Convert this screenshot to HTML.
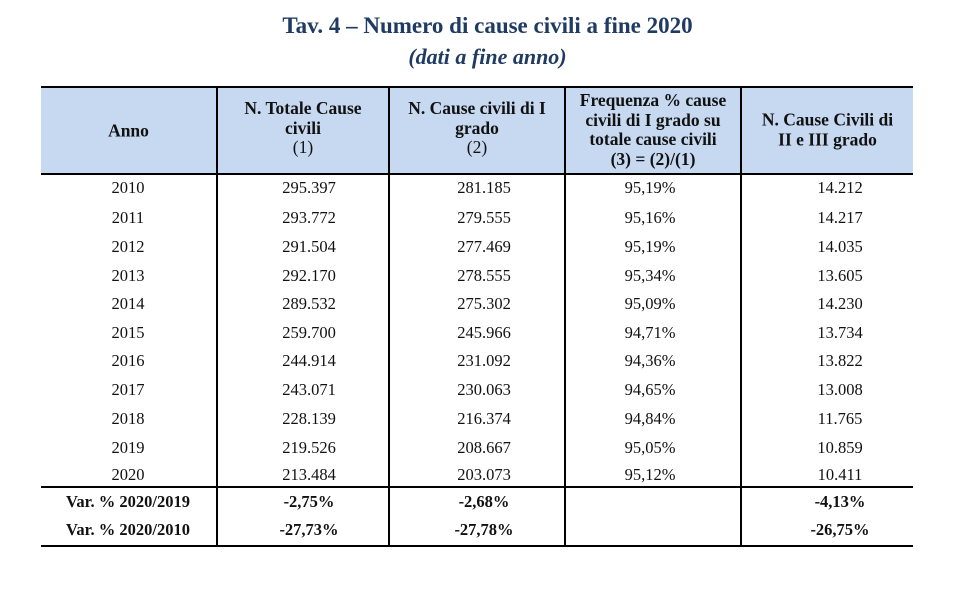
<!DOCTYPE html>
<html><head><meta charset="utf-8"><style>
body{margin:0;width:975px;height:601px;background:#fff;position:relative;font-family:"Liberation Serif",serif;overflow:hidden}
.t{position:absolute;left:0;width:975px;text-align:center;color:#1f3a63;font-weight:bold}
.h{position:absolute;background:#c6d9f1;left:41px;top:87px;width:872px;height:87px}
.ln{position:absolute;background:#000}
.c{position:absolute;text-align:center;font-size:16.5px;color:#111;transform:translateY(-50%)}
.hd{position:absolute;text-align:center;font-size:17.5px;font-weight:bold;line-height:19.5px;color:#111;transform:translateY(-50%)}
.b{font-weight:bold}
</style></head><body>
<div class="t" style="top:13px;font-size:23px;">Tav. 4 – Numero di cause civili a fine 2020</div>
<div class="t" style="top:44px;font-size:22px;font-style:italic;">(dati a fine anno)</div>
<div class="h"></div>
<div class="ln" style="left:41px;top:86px;width:872px;height:2px"></div>
<div class="ln" style="left:41px;top:173px;width:872px;height:2px"></div>
<div class="ln" style="left:41px;top:486px;width:872px;height:2px"></div>
<div class="ln" style="left:41px;top:545px;width:872px;height:2px"></div>
<div class="ln" style="left:216px;top:86px;width:2px;height:461px"></div>
<div class="ln" style="left:388px;top:86px;width:2px;height:461px"></div>
<div class="ln" style="left:564px;top:86px;width:2px;height:461px"></div>
<div class="ln" style="left:740px;top:86px;width:2px;height:461px"></div>
<div class="hd" style="left:41px;width:175px;top:131px">Anno</div>
<div class="hd" style="left:218px;width:170px;top:128px">N. Totale Cause<br>civili<br><span style="font-weight:normal">(1)</span></div>
<div class="hd" style="left:390px;width:174px;top:128px">N. Cause civili di I<br>grado<br><span style="font-weight:normal">(2)</span></div>
<div class="hd" style="left:566px;width:174px;top:130px">Frequenza % cause<br>civili di I grado su<br>totale cause civili<br>(3) = (2)/(1)</div>
<div class="hd" style="left:742px;width:171px;top:130px">N. Cause Civili di<br>II e III grado</div>
<div id="rows"></div>
<script>
var d=[[188,"2010","295.397","281.185","95,19%","14.212"],[218,"2011","293.772","279.555","95,16%","14.217"],[247,"2012","291.504","277.469","95,19%","14.035"],[276,"2013","292.170","278.555","95,34%","13.605"],[304,"2014","289.532","275.302","95,09%","14.230"],[333,"2015","259.700","245.966","94,71%","13.734"],[361,"2016","244.914","231.092","94,36%","13.822"],[390,"2017","243.071","230.063","94,65%","13.008"],[419,"2018","228.139","216.374","94,84%","11.765"],[448,"2019","219.526","208.667","95,05%","10.859"],[475,"2020","213.484","203.073","95,12%","10.411"],[502,"Var. % 2020/2019","-2,75%","-2,68%","","-4,13%"],[530,"Var. % 2020/2010","-27,73%","-27,78%","","-26,75%"]];
var cols=[[28,200],[209,200],[384,200],[550,200],[740,200]];var h="";
d.forEach(function(r,i){for(var j=0;j<5;j++){h+='<div class="c'+(i>10?' b':'')+'" style="top:'+r[0]+'px;left:'+cols[j][0]+'px;width:'+cols[j][1]+'px">'+r[j+1]+'</div>';}});
document.getElementById("rows").innerHTML=h;
</script>
</body></html>
